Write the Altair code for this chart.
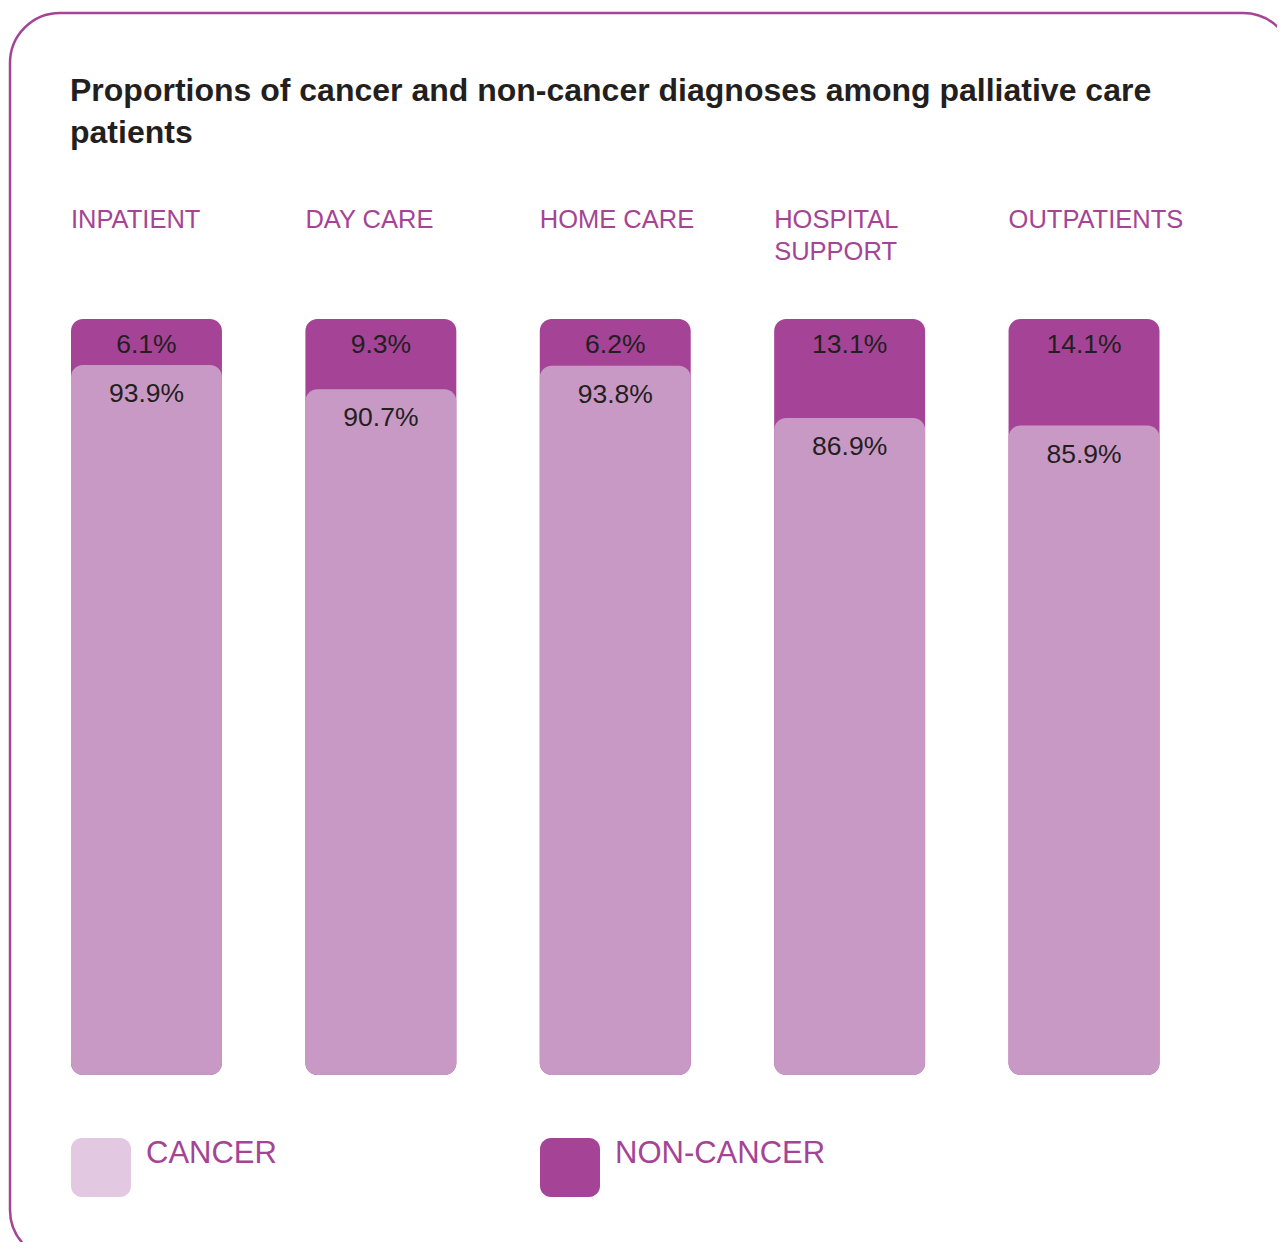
import altair as alt
import pandas as pd

# ---- data ----
categories = ["INPATIENT", "DAY CARE", "HOME CARE", "HOSPITAL SUPPORT", "OUTPATIENTS"]
category_labels = ["INPATIENT", "DAY CARE", "HOME CARE", "HOSPITAL\nSUPPORT", "OUTPATIENTS"]
cancer = [93.9, 90.7, 93.8, 86.9, 85.9]
non_cancer = [6.1, 9.3, 6.2, 13.1, 14.1]
legend_labels = ["CANCER", "NON-CANCER"]
title_lines = ["Proportions of cancer and non-cancer diagnoses among palliative care", "patients"]

DARK = "#a54496"
LIGHT = "#c999c5"
LEGEND_LIGHT = "#e2c8e1"
TEXT = "#231f20"
FONT = "Liberation Sans"

df = pd.DataFrame({
    "cat": categories,
    "label": category_labels,
    "cancer": cancer,
    "non_cancer": non_cancer,
})
df["total"] = df["cancer"] + df["non_cancer"]
df["cancer_txt"] = [f"{v:.1f}%" for v in cancer]
df["non_txt"] = [f"{v:.1f}%" for v in non_cancer]

leg = pd.DataFrame({"name": legend_labels, "color": [LEGEND_LIGHT, DARK]})
one = pd.DataFrame({"k": [0]})

W, H = 1269, 1234

xscale = alt.Scale(type="band", domain=categories, range=[63, 1151.5],
                   paddingInner=0.356, paddingOuter=0)
yscale = alt.Scale(domain=[0, 100], range=[1067, 311])
X = alt.X("cat:N", scale=xscale, axis=None)
Xc = alt.X("cat:N", scale=xscale, axis=None, bandPosition=0.5)

base = alt.Chart(df)

frame = alt.Chart(one).mark_rect(
    fill="white", stroke=DARK, strokeWidth=2.5, cornerRadius=50
).encode(x=alt.value(2), x2=alt.value(1285), y=alt.value(5), y2=alt.value(1252))

title = alt.Chart(one).mark_text(
    align="left", baseline="alphabetic", font=FONT, fontSize=32, fontWeight="bold",
    color=TEXT, lineHeight=42
).encode(x=alt.value(62), y=alt.value(93), text=alt.value(title_lines))

dark_bars = base.mark_bar(color=DARK, cornerRadius=12).encode(
    x=X, y=alt.Y("total:Q", scale=yscale, axis=None), y2=alt.datum(0)
)
light_bars = base.mark_bar(color=LIGHT, cornerRadius=12).encode(
    x=X, y=alt.Y("cancer:Q", scale=yscale, axis=None), y2=alt.datum(0)
)

non_txt = base.mark_text(baseline="middle", dy=26, font=FONT, fontSize=26.5, color=TEXT).encode(
    x=Xc, y=alt.Y("total:Q", scale=yscale, axis=None), text="non_txt:N"
)
can_txt = base.mark_text(baseline="middle", dy=29, font=FONT, fontSize=26.5, color=TEXT).encode(
    x=Xc, y=alt.Y("cancer:Q", scale=yscale, axis=None), text="cancer_txt:N"
)

cat_txt = base.mark_text(
    align="left", baseline="alphabetic", font=FONT, fontSize=25.5, color=DARK,
    lineBreak="\n", lineHeight=32
).encode(
    x=alt.X("cat:N", scale=xscale, axis=None, bandPosition=0),
    y=alt.value(220), text="label:N"
)

lscale = alt.Scale(type="band", domain=legend_labels, range=[93 - 234.5, 562 + 234.5],
                   paddingInner=0, paddingOuter=0)
leg_sq = alt.Chart(leg).mark_bar(width=60, cornerRadius=11).encode(
    x=alt.X("name:N", scale=lscale, axis=None),
    y=alt.value(1130), y2=alt.value(1189),
    color=alt.Color("color:N", scale=None, legend=None),
)
leg_txt = alt.Chart(leg).mark_text(
    align="left", baseline="alphabetic", dx=45, font=FONT, fontSize=31, color=DARK
).encode(
    x=alt.X("name:N", scale=lscale, axis=None, bandPosition=0.5), y=alt.value(1155), text="name:N"
)

chart = alt.layer(
    frame, title, dark_bars, light_bars, non_txt, can_txt, cat_txt, leg_sq, leg_txt
).resolve_scale(x="independent", y="independent", color="independent").properties(
    width=W, height=H, autosize=alt.AutoSizeParams(type="none"), padding=0,
    background="white"
).configure_view(stroke=None)

chart.save("out.html", embed_options={"renderer": "svg", "actions": False})
